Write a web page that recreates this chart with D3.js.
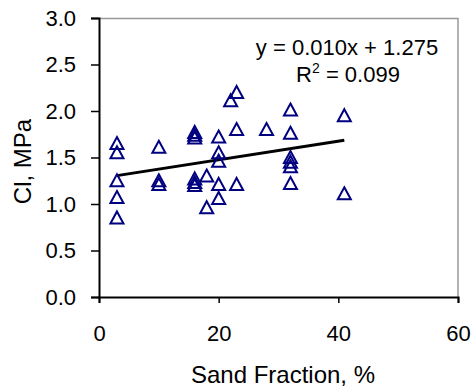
<!DOCTYPE html>
<html>
<head>
<meta charset="utf-8">
<script src="https://cdn.jsdelivr.net/npm/d3@7"></script>
<style>
  body { margin: 0; background: #fff; }
  svg { font-family: "Liberation Sans", Arial, sans-serif; display: block; }
</style>
</head>
<body>
<svg width="474" height="391"></svg>
<script>
// sand fraction (%) and cone index (MPa)
const sand = [3, 3, 3, 3, 3,
  10, 10, 10,
  16, 16, 16, 16, 16, 16,
  18, 18,
  20, 20, 20, 20, 20,
  22, 23, 23, 23,
  28,
  32, 32, 32, 32, 32, 32,
  41, 41];
const ci = [1.65, 1.55, 1.25, 1.07, 0.85,
  1.61, 1.25, 1.21,
  1.77, 1.74, 1.71, 1.27, 1.23, 1.20,
  1.30, 0.96,
  1.72, 1.55, 1.46, 1.21, 1.06,
  2.11, 2.20, 1.80, 1.21,
  1.80,
  2.01, 1.76, 1.50, 1.45, 1.40, 1.22,
  1.95, 1.11];
const fitSlope = 0.010, fitIntercept = 1.275;
const xTicks = [0, 20, 40, 60];
const yTicks = [0, 0.5, 1, 1.5, 2, 2.5, 3];

const svg = d3.select("svg");
const margin = {top: 18, right: 16, bottom: 94, left: 99};
const width = 474 - margin.left - margin.right,
    height = 391 - margin.top - margin.bottom;

const x = d3.scaleLinear().domain([0, 60]).range([0, width]);
const y = d3.scaleLinear().domain([0, 3]).range([height, 0]);

const g = svg.append("g").attr("transform", `translate(${margin.left},${margin.top})`);

// gray frame on top / right
g.append("path")
    .attr("d", `M0,0.5H${width}V${height}`)
    .attr("fill", "none")
    .attr("stroke", "#999")
    .attr("stroke-width", 1.5);

// axes
const xAxis = g.append("g")
    .attr("transform", `translate(0,${height})`)
    .call(d3.axisBottom(x).tickValues(xTicks).tickSize(6).tickPadding(22).tickFormat(d3.format("d")));
const yAxis = g.append("g")
    .call(d3.axisLeft(y).tickValues(yTicks).tickSize(8).tickPadding(15).tickFormat(d3.format(".1f")));

[xAxis, yAxis].forEach(a => {
  a.select(".domain").attr("stroke", "#000").attr("stroke-width", 2);
  a.selectAll(".tick line").attr("stroke", "#000").attr("stroke-width", 1.5);
  a.selectAll(".tick text").attr("font-size", 22).attr("fill", "#000")
      .attr("font-family", "Liberation Sans, Arial, sans-serif");
});

// axis titles
svg.append("text")
    .attr("x", 283)
    .attr("y", 383)
    .attr("text-anchor", "middle")
    .attr("font-size", 24)
    .text("Sand Fraction, %");

svg.append("text")
    .attr("transform", `translate(31,${margin.top + height / 2 + 4}) rotate(-90)`)
    .attr("text-anchor", "middle")
    .attr("font-size", 24)
    .text("Cl, MPa");

// trend line across the data range
const xr = d3.extent(sand);
g.append("line")
    .attr("x1", x(xr[0])).attr("y1", y(fitSlope * xr[0] + fitIntercept))
    .attr("x2", x(xr[1])).attr("y2", y(fitSlope * xr[1] + fitIntercept))
    .attr("stroke", "#000")
    .attr("stroke-width", 3);

// triangle markers
const tri = "M0,-6.5L6.5,5.5L-6.5,5.5Z";
g.selectAll(".pt")
    .data(sand.map((s, i) => [s, ci[i]]))
    .enter()
    .append("path")
    .attr("class", "pt")
    .attr("d", tri)
    .attr("transform", d => `translate(${x(d[0])},${y(d[1])})`)
    .attr("fill", "none")
    .attr("stroke", "#000080")
    .attr("stroke-width", 2);

// equation
svg.append("text")
    .attr("x", 347)
    .attr("y", 55)
    .attr("text-anchor", "middle")
    .attr("font-size", 22)
    .text(`y = ${fitSlope.toFixed(3)}x + ${fitIntercept.toFixed(3)}`);

const r2 = svg.append("text")
    .attr("x", 348)
    .attr("y", 82)
    .attr("text-anchor", "middle")
    .attr("font-size", 22);
r2.append("tspan").text("R");
r2.append("tspan").attr("font-size", 14).attr("dy", -9).text("2");
r2.append("tspan").attr("dy", 9).text(" = 0.099");
</script>
</body>
</html>
